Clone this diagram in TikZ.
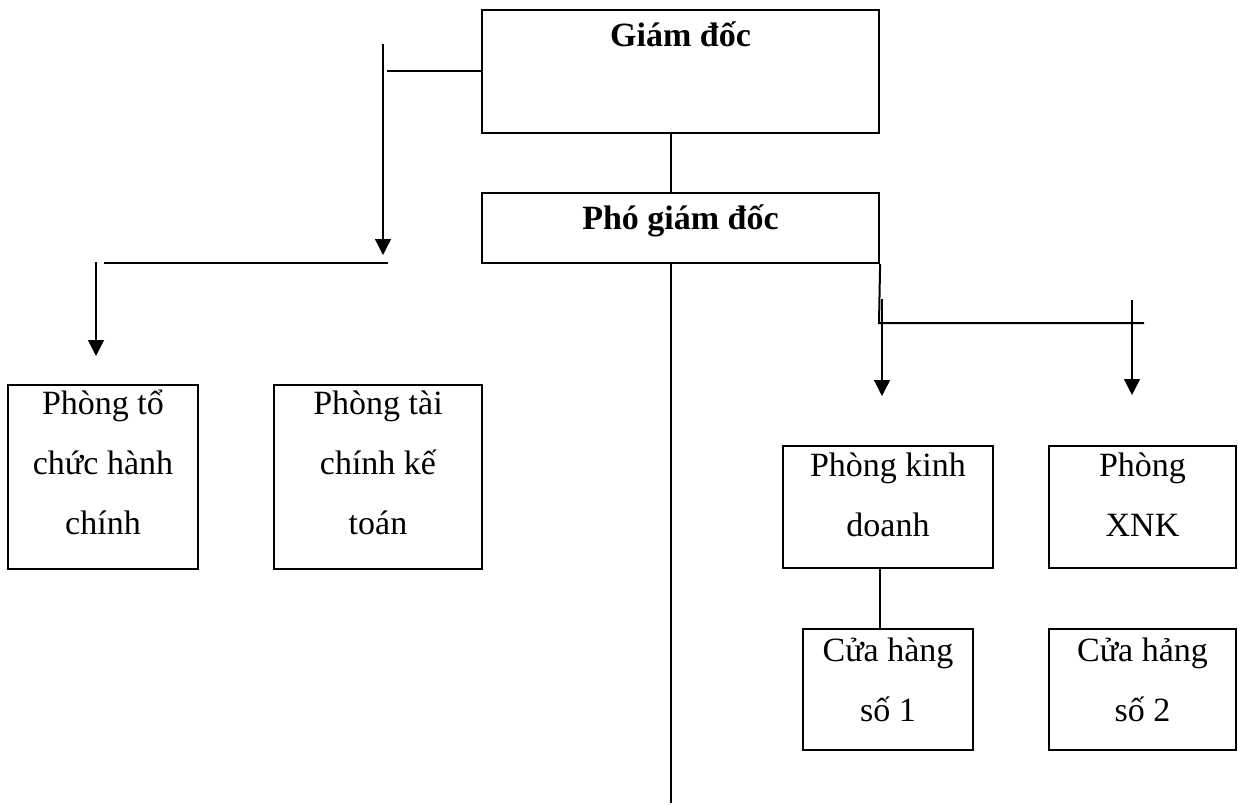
\documentclass[tikz,border=0pt]{standalone}
\usepackage{fontspec}
\setmainfont{Liberation Serif}
\usetikzlibrary{arrows.meta}
\begin{document}
\begin{tikzpicture}[x=1pt,y=-1pt,
  box/.style={draw, line width=2.2pt, inner sep=0pt},
  lbl/.style={inner sep=0pt, anchor=north, text width=300pt, align=flush center,
              font=\fontsize{34}{60}\selectfont},
  lblb/.style={lbl, font=\fontsize{34}{60}\selectfont\bfseries},
  link/.style={line width=2pt},
  arr/.style={line width=1.3pt, -{Triangle[width=16pt,length=16pt]}}]
\useasboundingbox (0,0) rectangle (1238,805);

% management boxes
\node[box, minimum width=397pt, minimum height=123pt] (gd) at (680.5,71.5) {};
\node[lblb] (gdt) at (gd.north) {\rule{0pt}{37pt}Giám đốc};
\node[box, minimum width=397pt, minimum height=70pt] (pgd) at (680.5,228) {};
\node[lblb] (pgdt) at (pgd.north) {\rule{0pt}{37pt}Phó giám đốc};

% departments
\node[box, minimum width=190pt, minimum height=184pt] (p1) at (103,477) {};
\node[lbl] (p1t) at (p1.north) {\rule{0pt}{30pt}Phòng tổ\\chức hành\\chính};
\node[box, minimum width=208pt, minimum height=184pt] (p2) at (378,477) {};
\node[lbl] (p2t) at (p2.north) {\rule{0pt}{30pt}Phòng tài\\chính kế\\toán};
\node[box, minimum width=210pt, minimum height=122pt] (kd) at (888,507) {};
\node[lbl] (kdt) at (kd.north) {\rule{0pt}{31pt}Phòng kinh\\doanh};
\node[box, minimum width=187pt, minimum height=122pt] (xnk) at (1142.5,507) {};
\node[lbl] (xnkt) at (xnk.north) {\rule{0pt}{31pt}Phòng\\XNK};

% shops
\node[box, minimum width=170pt, minimum height=121pt] (ch1) at (888,689.5) {};
\node[lbl] (ch1t) at (ch1.north) {\rule{0pt}{33pt}Cửa hàng\\số 1};
\node[box, minimum width=187pt, minimum height=121pt] (ch2) at (1142.5,689.5) {};
\node[lbl] (ch2t) at (ch2.north) {\rule{0pt}{33pt}Cửa hảng\\số 2};

% free ends of connectors
\coordinate (stem) at (671,803);
\coordinate (la0) at (383,44);
\coordinate (la1) at (383,255);
\coordinate (lh) at (387,71.5);
\coordinate (bh0) at (104,263);
\coordinate (bh1) at (388,263);
\coordinate (pa0) at (96,262);
\coordinate (pa1) at (96,356);
\coordinate (rb) at (879,323);
\coordinate (re) at (1144,323);
\coordinate (ka0) at (882,299);
\coordinate (ka1) at (882,396);
\coordinate (xa0) at (1132,300);
\coordinate (xa1) at (1132,395);

% centre stem
\draw[link] (gd.south -| stem) -- (pgd.north -| stem);
\draw[link] (pgd.south -| stem) -- (stem);

% left branch
\draw[link] (lh) -- (gd.west);
\draw[arr] (la0) -- (la1);
\draw[link] (bh0) -- (bh1);
\draw[arr] (pa0) -- (pa1);

% right branch
\draw[link] (pgd.south east) -- (rb) -- (re);
\draw[arr] (ka0) -- (ka1);
\draw[arr] (xa0) -- (xa1);
\draw[link] (kd.south -| pgd.east) -- (ch1.north -| pgd.east);
\end{tikzpicture}
\end{document}
